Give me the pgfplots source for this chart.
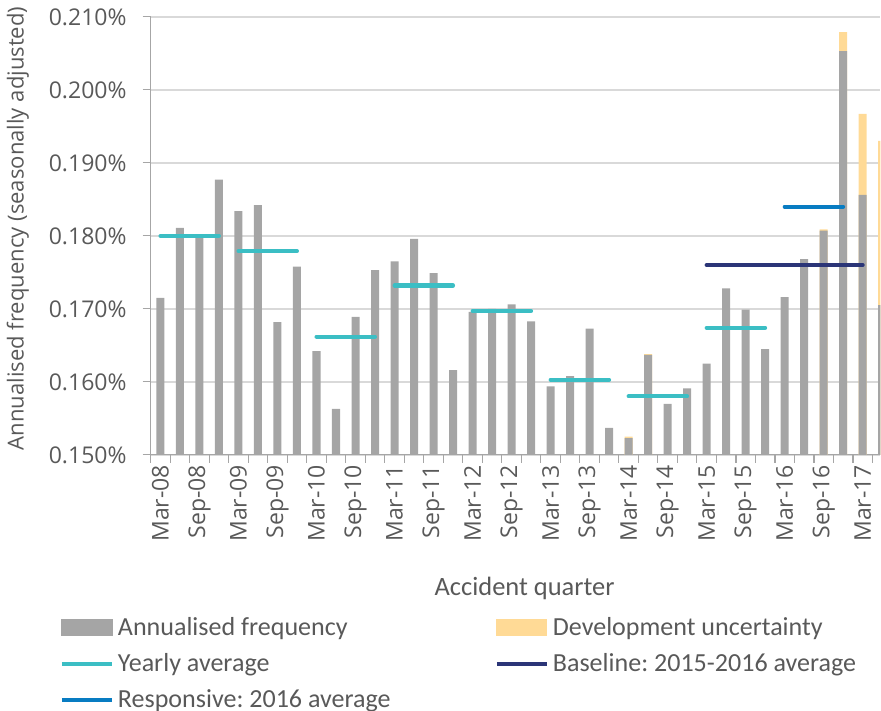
\documentclass[border=0pt]{standalone}
\usepackage{pgfplots}
\pgfplotsset{compat=1.18}
\usepackage{fontspec}
\setmainfont{Carlito}
\newfontfamily\osans{Open Sans}
\frenchspacing
\definecolor{txt}{HTML}{595959}
\definecolor{barg}{HTML}{A5A5A5}
\definecolor{devy}{HTML}{FFDA96}
\definecolor{cyanl}{HTML}{3BBEC4}
\definecolor{navyl}{HTML}{2B3577}
\definecolor{bluel}{HTML}{087CC2}
\definecolor{gridc}{HTML}{D9D9D9}
\definecolor{axc}{HTML}{A6A6A6}
\begin{document}
\begin{tikzpicture}
\begin{axis}[
  name=ax,
  width=364.15pt, height=218.65pt, scale only axis,
  xmin=-0.5, xmax=36.9, ymin=0.15, ymax=0.21,
  enlargelimits=false,
  ybar,
  axis x line*=bottom, axis y line*=left,
  axis line style={draw=axc, line width=0.6pt},
  ytick={0.15,0.16,0.17,0.18,0.19,0.20,0.21},
  yticklabels={0.150\%,0.160\%,0.170\%,0.180\%,0.190\%,0.200\%,0.210\%},
  ymajorgrids, grid style={draw=gridc, line width=0.75pt},
  xtick={-0.5,0.5,...,37.5},
  x tick label as interval,
  xticklabels={Mar-08,{},Sep-08,{},Mar-09,{},Sep-09,{},Mar-10,{},Sep-10,{},Mar-11,{},Sep-11,{},Mar-12,{},Sep-12,{},Mar-13,{},Sep-13,{},Mar-14,{},Sep-14,{},Mar-15,{},Sep-15,{},Mar-16,{},Sep-16,{},Mar-17,{}},
  tick align=outside, major tick length=4pt,
  tick style={draw=axc, line width=0.6pt},
  ticklabel style={font=\osans\fontsize{11.5}{13}\selectfont, text=txt},
  /pgf/number format/assume math mode=true,
  xticklabel style={rotate=90, anchor=east},
  xticklabel shift=-2.5pt,
  yticklabel shift=4.5pt,
  xlabel={Accident quarter},
  xlabel style={at={(axis description cs:0.5125,-0.306)}, anchor=center, font=\fontsize{13.2}{15}\selectfont, text=txt},
  ylabel={Annualised frequency (seasonally adjusted)},
  ylabel style={at={(axis description cs:-0.1822,0.517)}, anchor=center, font=\osans\fontsize{11}{13}\selectfont, text=txt},
  legend columns=2,
  legend cell align=left,
  legend style={at={(axis description cs:-0.1245,-0.3613)}, anchor=north west, draw=none, fill=none,
    overlay,
    inner sep=0pt, outer sep=0pt, row sep=3.6pt,
    font=\fontsize{13}{15}\selectfont, text=txt,
    /tikz/column 2/.style={column sep=50pt},
    nodes={inner xsep=2pt, inner ysep=2pt}},
]
% development uncertainty (total height = frequency + uncertainty)
\addplot[fill=devy, draw=none, bar width=4pt, bar shift=0pt, forget plot] coordinates {
(24,0.1525) (25,0.1638) (34,0.1809) (35,0.2079) (36,0.1967) (37,0.1930)};
% annualised frequency
\addplot[fill=barg, draw=none, bar width=4pt, bar shift=0pt, forget plot] coordinates {
(0,0.1715) (1,0.1811) (2,0.1800) (3,0.1877) (4,0.1834) (5,0.1842) (6,0.1682) (7,0.1758)
(8,0.1642) (9,0.1563) (10,0.1689) (11,0.1753) (12,0.1765) (13,0.1796) (14,0.1749) (15,0.1616)
(16,0.1696) (17,0.1700) (18,0.1706) (19,0.1683) (20,0.1594) (21,0.1608) (22,0.1673) (23,0.1537)
(24,0.1523) (25,0.1637) (26,0.1570) (27,0.1591) (28,0.1625) (29,0.1728) (30,0.1699) (31,0.1645)
(32,0.1716) (33,0.1768) (34,0.1807) (35,0.2053) (36,0.1856) (37,0.1705)};
% yearly averages
\addplot[sharp plot, cyanl, line width=2pt, line cap=round, unbounded coords=jump, forget plot] coordinates {
(0,0.1800) (3,0.1800) (3.5,nan)
(4,0.1779) (7,0.1779) (7.5,nan)
(8,0.1662) (11,0.1662) (11.5,nan)
(12,0.1732) (15,0.1732) (15.5,nan)
(16,0.1697) (19,0.1697) (19.5,nan)
(20,0.1603) (23,0.1603) (23.5,nan)
(24,0.1580) (27,0.1580) (27.5,nan)
(28,0.1674) (31,0.1674)};
% baseline
\addplot[sharp plot, navyl, line width=2pt, line cap=round, forget plot] coordinates {(28,0.1760) (36,0.1760)};
% responsive
\addplot[sharp plot, bluel, line width=2pt, line cap=round, forget plot] coordinates {(32,0.1840) (35,0.1840)};
% legend
\addlegendimage{legend image code/.code={\fill[barg] (0pt,-4pt) rectangle (25pt,4pt);}}
\addlegendentry{Annualised frequency}
\addlegendimage{legend image code/.code={\fill[devy] (0pt,-4pt) rectangle (25pt,4pt);}}
\addlegendentry{Development uncertainty}
\addlegendimage{legend image code/.code={\draw[cyanl, line width=2pt] (0pt,0pt) -- (25pt,0pt);}}
\addlegendentry{Yearly average}
\addlegendimage{legend image code/.code={\draw[navyl, line width=2pt] (0pt,0pt) -- (25pt,0pt);}}
\addlegendentry{Baseline: 2015-2016 average}
\addlegendimage{legend image code/.code={\draw[bluel, line width=2pt] (0pt,0pt) -- (25pt,0pt);}}
\addlegendentry{Responsive: 2016 average}
\end{axis}
\path (ax.south west) ++(0,-127.5pt);
\end{tikzpicture}
\end{document}
